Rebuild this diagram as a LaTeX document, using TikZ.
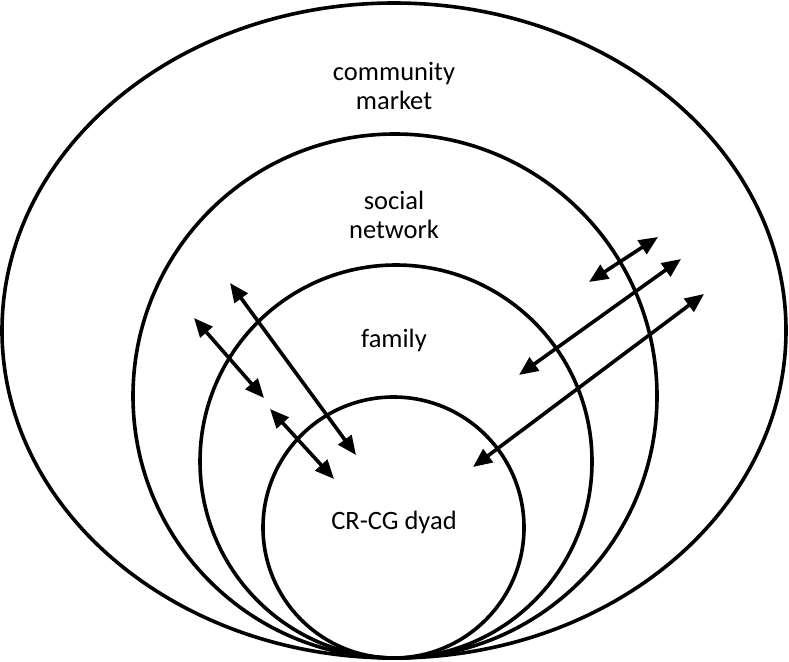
\documentclass[tikz,border=0pt]{standalone}
\usepackage{fontspec}
\setmainfont{Carlito}
\usetikzlibrary{arrows.meta,shapes.geometric}
\begin{document}
\begin{tikzpicture}[x=1pt,y=-1pt,
  ring/.style={draw=black,line width=3.6pt,ellipse,inner sep=0pt},
  lbl/.style={font=\fontsize{26.5}{29}\selectfont,align=center,inner sep=0pt},
  dbl/.style={line width=3.6pt,{Triangle[length=19pt,width=16pt]}-{Triangle[length=19pt,width=16pt]}}]
\useasboundingbox (0,0) rectangle (789,661);
\node[ring,minimum width=784pt,minimum height=655pt] (outer) at (394,330.5) {};
\node[ring,minimum width=524pt,minimum height=524pt] (social) at (395,396) {};
\node[ring,minimum width=392pt,minimum height=393pt] (family) at (396,461.5) {};
\node[ring,minimum width=261pt,minimum height=261pt] (dyad) at (393.5,527.5) {};
\node[lbl] (tcm) at (394,86) {community\\market};
\node[lbl] (tsn) at (394,215) {social\\network};
\node[lbl] (tfa) at (394,340) {family};
\node[lbl] (tdy) at (394,522) {CR-CG dyad};
\coordinate (a1) at (194,318);
\coordinate (a2) at (264,398);
\coordinate (b1) at (230,283);
\coordinate (b2) at (356,455);
\coordinate (c1) at (270,409);
\coordinate (c2) at (334,479);
\coordinate (d1) at (658,237);
\coordinate (d2) at (589,282);
\coordinate (e1) at (681,259);
\coordinate (e2) at (519,375);
\coordinate (f1) at (704,294);
\coordinate (f2) at (473,467);
\draw[dbl] (a1) -- (a2);
\draw[dbl] (b1) -- (b2);
\draw[dbl] (c1) -- (c2);
\draw[dbl] (d1) -- (d2);
\draw[dbl] (e1) -- (e2);
\draw[dbl] (f1) -- (f2);
\end{tikzpicture}
\end{document}
